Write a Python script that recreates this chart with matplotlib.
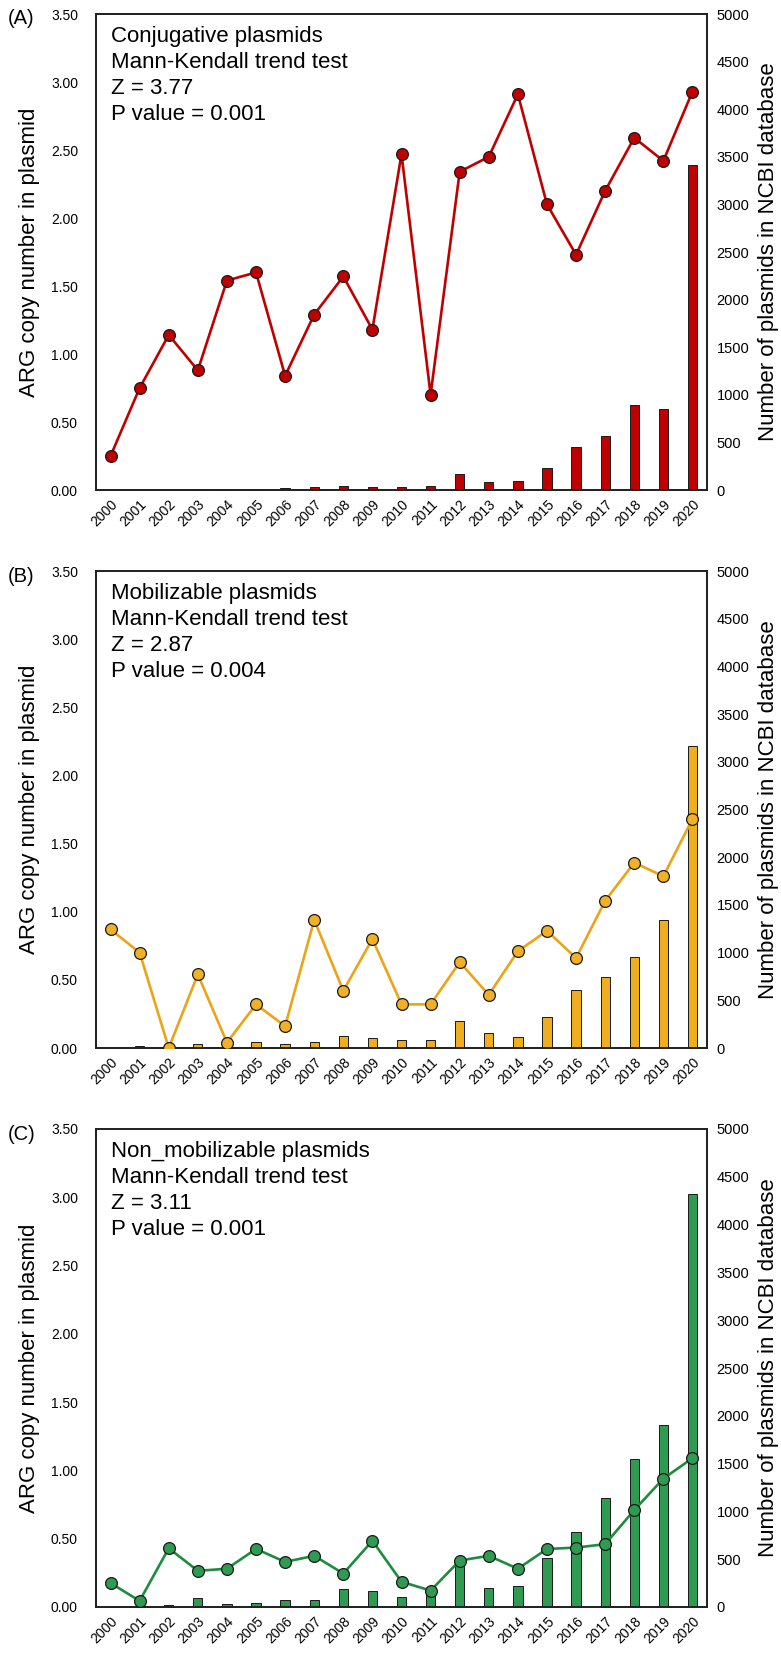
import matplotlib
matplotlib.use("Agg")
import matplotlib.pyplot as plt
import numpy as np

plt.rcParams['font.family'] = ['Liberation Sans', 'DejaVu Sans']

years = [str(y) for y in range(2000, 2021)]

# ARG copy number per plasmid (left axis)
conj_arg = [0.25, 0.75, 1.14, 0.88, 1.54, 1.60, 0.84, 1.29, 1.57, 1.18, 2.47,
            0.70, 2.34, 2.45, 2.91, 2.10, 1.73, 2.20, 2.59, 2.42, 2.93]
mob_arg = [0.87, 0.70, 0.00, 0.54, 0.04, 0.32, 0.16, 0.94, 0.42, 0.80, 0.32,
           0.32, 0.63, 0.39, 0.71, 0.86, 0.66, 1.08, 1.36, 1.26, 1.68]
nonmob_arg = [0.175, 0.045, 0.43, 0.265, 0.28, 0.425, 0.33, 0.375, 0.245, 0.485, 0.185,
              0.12, 0.34, 0.375, 0.28, 0.425, 0.435, 0.46, 0.71, 0.94, 1.09]

# Number of plasmids in NCBI database (right axis)
conj_n = [3, 2, 3, 12, 6, 7, 18, 32, 46, 32, 32,
          43, 165, 82, 96, 236, 455, 568, 895, 852, 3416]
mob_n = [3, 25, 2, 42, 15, 60, 39, 64, 131, 102, 81,
         81, 283, 155, 120, 325, 604, 739, 951, 1346, 3163]
nonmob_n = [14, 5, 21, 94, 31, 45, 73, 73, 191, 163, 108,
            150, 479, 195, 218, 510, 789, 1140, 1550, 1900, 4320]

panels = [
    dict(letter="(A)", title="Conjugative plasmids", z="3.77", p="0.001",
         arg=conj_arg, n=conj_n, bar="#C00000", line="#C00000", mk="#C00000"),
    dict(letter="(B)", title="Mobilizable plasmids", z="2.87", p="0.004",
         arg=mob_arg, n=mob_n, bar="#F0AE1E", line="#EDA317", mk="#F2B124"),
    dict(letter="(C)", title="Non_mobilizable plasmids", z="3.11", p="0.001",
         arg=nonmob_arg, n=nonmob_n, bar="#2E9A52", line="#1E8C3E", mk="#2E9A52"),
]

W, H = 781, 1655
fig = plt.figure(figsize=(W / 100, H / 100), dpi=100)

left_px, right_px = 96, 707
frames = [(14, 490), (571, 1048), (1129, 1607)]

x = np.arange(len(years))
for cfg, (top_px, bot_px) in zip(panels, frames):
    rect = [left_px / W, 1 - bot_px / H, (right_px - left_px) / W, (bot_px - top_px) / H]
    ax = fig.add_axes(rect)
    ax2 = ax.twinx()

    ax2.bar(x, cfg["n"], width=0.32, color=cfg["bar"], edgecolor="#1a1a1a",
            linewidth=0.7, zorder=2)
    ax.plot(x, cfg["arg"], color=cfg["line"], linewidth=1.9, marker="o",
            markersize=8.5, markerfacecolor=cfg["mk"], markeredgecolor="#1a1a1a",
            markeredgewidth=0.9, zorder=3)

    ax.set_zorder(ax2.get_zorder() + 1)
    ax.patch.set_visible(False)

    ax.set_xlim(-0.5, len(years) - 0.5)
    ax.set_ylim(0, 3.5)
    ax2.set_ylim(0, 5000)
    ax.set_yticks(np.arange(0, 3.51, 0.5))
    ax.set_yticklabels([f"{v:.2f}" for v in np.arange(0, 3.51, 0.5)])
    ax2.set_yticks(np.arange(0, 5001, 500))
    ax.set_xticks(x)
    ax.set_xticklabels(years, rotation=45, ha="right", rotation_mode="anchor")

    ax.tick_params(axis="y", length=0, pad=13, labelsize=10)
    ax2.tick_params(axis="y", length=0, pad=7, labelsize=10.5)
    ax.tick_params(axis="x", length=0, pad=5, labelsize=10)

    for a in (ax, ax2):
        for s in a.spines.values():
            s.set_linewidth(1.3)
            s.set_color("#222222")

    ax.set_ylabel("ARG copy number in plasmid", fontsize=16)
    ax.yaxis.label.set_va("center")
    ax.yaxis.set_label_coords((30 - left_px) / (right_px - left_px), 0.5)
    ax2.set_ylabel("Number of plasmids in NCBI database", fontsize=16)
    ax2.yaxis.label.set_va("center")
    ax2.yaxis.set_label_coords((769 - left_px) / (right_px - left_px), 0.5)

    ax.text(0.024, 0.975,
            f"{cfg['title']}\nMann-Kendall trend test\nZ = {cfg['z']}\nP value = {cfg['p']}",
            transform=ax.transAxes, ha="left", va="top", fontsize=16,
            linespacing=1.31)

    fig.text(8 / W, 1 - (top_px + 5) / H, cfg["letter"], ha="left", va="center",
             fontsize=14.5)

fig.savefig("out.png", dpi=100)
